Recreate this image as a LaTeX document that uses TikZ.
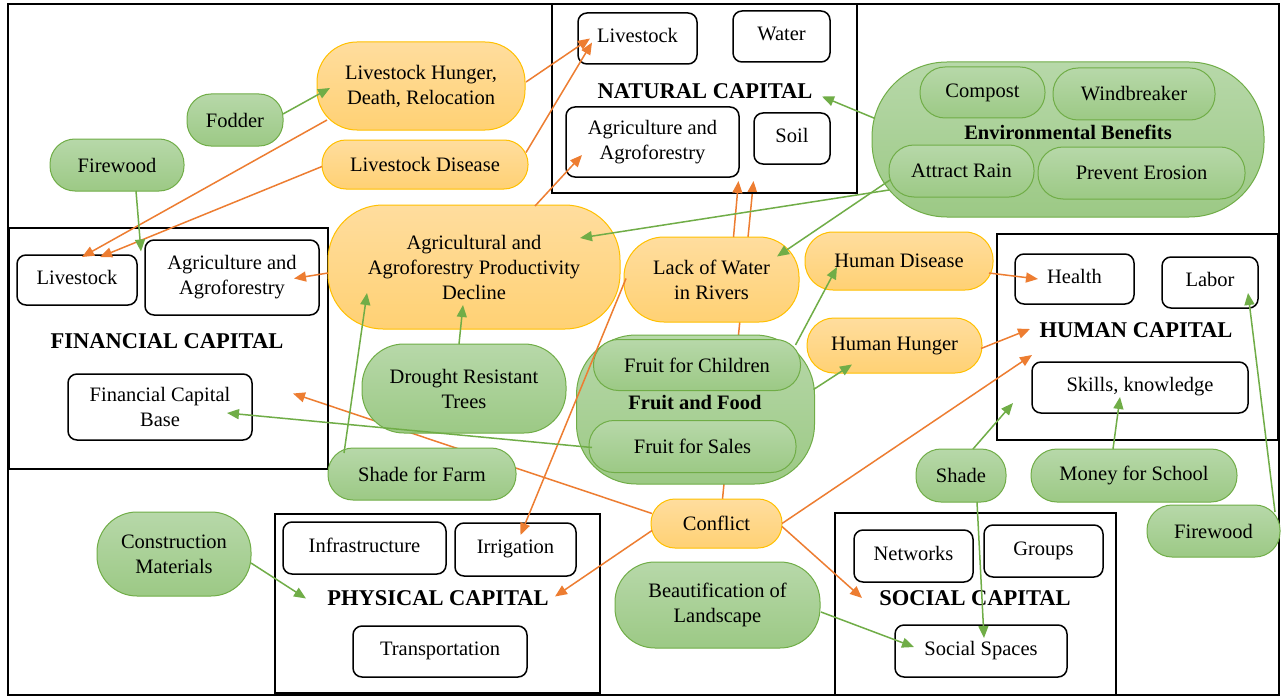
\documentclass[tikz,border=0pt]{standalone}
\usepackage{fontspec}
\setmainfont{Liberation Serif}
\usetikzlibrary{arrows.meta}

\pgfdeclarelayer{under}
\pgfsetlayers{under,main}

\definecolor{orline}{HTML}{ED7D31}
\definecolor{grline}{HTML}{70AD47}
\definecolor{orborder}{HTML}{FFC000}
\definecolor{ortop}{HTML}{FFDD9E}
\definecolor{orbot}{HTML}{FFD174}
\definecolor{grtop}{HTML}{B7D8A9}
\definecolor{grbot}{HTML}{9CC985}

\tikzset{
  txt/.style={font=\fontsize{20.5}{25}\selectfont, align=center, inner sep=0pt, outer sep=0pt},
  ln/.style={text height=15pt, text depth=6.5pt},
  multi/.style={text height={}, text depth={}},
  inlabel/.style={txt, font=\fontsize{20.5}{25}\selectfont\bfseries},
  wbox/.style={txt, ln, draw=black, line width=1.5pt, rounded corners=9, fill=white},
  capframe/.style={draw=black, line width=2pt, inner sep=0pt, outer sep=0pt},
  caplabel/.style={font=\fontsize{22.5}{27}\selectfont\bfseries, inner sep=0pt},
  obox/.style={txt, draw=orborder, line width=1pt, top color=ortop, bottom color=orbot},
  gbox/.style={txt, draw=grline, line width=1pt, top color=grtop, bottom color=grbot},
  oarr/.style={draw=orline, line width=1.5pt, -{Triangle[length=12pt,width=10pt]}},
  garr/.style={draw=grline, line width=1.5pt, -{Triangle[length=12pt,width=10pt]}},
}

\begin{document}
\begin{tikzpicture}[x=1pt, y=-1pt]
\useasboundingbox (0,0) rectangle (1281,698);
\draw[line width=2.5pt] (8,4) rectangle (1279,695);

% capital frames
\node[capframe, minimum width=305, minimum height=189] (natcap) at (704.5,98.5) {};
\node[capframe, minimum width=319, minimum height=241] (fincap) at (168.5,348.5) {};
\node[capframe, minimum width=281, minimum height=206] (humcap) at (1137.5,337) {};
\node[capframe, minimum width=325, minimum height=179] (phycap) at (437.5,603.5) {};
\node[capframe, minimum width=281, minimum height=182] (soccap) at (975.5,604) {};

% natural capital
\node[wbox, minimum width=119, minimum height=51] (natlive) at (637.5,38.5) {Livestock};
\node[wbox, minimum width=97, minimum height=51] (natwater) at (781.5,36.5) {Water};
\node[caplabel] (natlabel) at (705,91) {NATURAL CAPITAL};
\node[wbox, multi, minimum width=173, minimum height=70] (natagri) at (652.5,142) {Agriculture and\\Agroforestry};
\node[wbox, minimum width=76, minimum height=51] (natsoil) at (792,138.5) {Soil};

% financial capital
\node[wbox, minimum width=120, minimum height=50] (finlive) at (77,280) {Livestock};
\node[wbox, multi, minimum width=174, minimum height=75] (finagri) at (232,277.5) {Agriculture and\\Agroforestry};
\node[caplabel] (finlabel) at (167,341) {FINANCIAL CAPITAL};
\node[wbox, multi, minimum width=184, minimum height=66] (finbase) at (160,407) {Financial Capital\\Base};

% human capital
\node[wbox, minimum width=119, minimum height=50] (health) at (1074.5,279) {Health};
\node[wbox, minimum width=96, minimum height=51] (labor) at (1210,282.5) {Labor};
\node[caplabel] (humlabel) at (1136,330) {HUMAN CAPITAL};
\node[wbox, minimum width=216, minimum height=51] (skills) at (1140,387.5) {Skills, knowledge};

% physical capital
\node[wbox, minimum width=163, minimum height=52] (infra) at (364.5,548) {Infrastructure};
\node[wbox, minimum width=121, minimum height=53] (irrig) at (515.5,549.5) {Irrigation};
\node[caplabel] (phylabel) at (438,598) {PHYSICAL CAPITAL};
\node[wbox, minimum width=174, minimum height=51] (transp) at (440,651.5) {Transportation};

% social capital
\node[wbox, minimum width=119, minimum height=52] (networks) at (913.5,556) {Networks};
\node[wbox, minimum width=119, minimum height=52] (groups) at (1043.5,551) {Groups};
\node[caplabel] (soclabel) at (975,598) {SOCIAL CAPITAL};
\node[wbox, minimum width=172, minimum height=52] (socspaces) at (981,651) {Social Spaces};

% threats
\node[obox, minimum width=208, minimum height=88, rounded corners=40] (hunger) at (421,86) {Livestock Hunger,\\Death, Relocation};
\node[obox, minimum width=206, minimum height=49, rounded corners=24] (lsdisease) at (425,164.5) {Livestock Disease};
\node[obox, minimum width=292, minimum height=124, rounded corners=55] (decline) at (474,267) {Agricultural and\\Agroforestry Productivity\\Decline};
\node[obox, minimum width=175, minimum height=85, rounded corners=40] (lackwater) at (711.5,279.5) {Lack of Water\\in Rivers};
\node[obox, minimum width=188, minimum height=58, rounded corners=28] (humdisease) at (899,261) {Human Disease};
\node[obox, minimum width=175, minimum height=55, rounded corners=27] (humhunger) at (894.5,345.5) {Human Hunger};
\node[obox, minimum width=131, minimum height=49, rounded corners=24] (conflict) at (716.5,523.5) {Conflict};

% benefits
\node[gbox, minimum width=96, minimum height=52, rounded corners=24] (fodder) at (235,120) {Fodder};
\node[gbox, minimum width=134, minimum height=52, rounded corners=25] (firewoodL) at (117,165) {Firewood};
\node[gbox, minimum width=204, minimum height=89, rounded corners=42] (drought) at (464,388.5) {Drought Resistant\\Trees};
\node[gbox, minimum width=188, minimum height=52, rounded corners=25] (shadefarm) at (422,474) {Shade for Farm};
\node[gbox, minimum width=154, minimum height=84, rounded corners=40] (construct) at (174,554) {Construction\\Materials};

\node[gbox, minimum width=238, minimum height=149, rounded corners=60] (fruit) at (695.5,409.5) {};
\node[gbox, minimum width=207, minimum height=51, rounded corners=25] (fruitkids) at (697,365) {Fruit for Children};
\node[gbox, minimum width=207, minimum height=52, rounded corners=25] (fruitsales) at (692.5,446.5) {Fruit for Sales};
\node[inlabel] (fruitlabel) at (695,403) {Fruit and Food};

\node[gbox, minimum width=392, minimum height=155, rounded corners=75] (envben) at (1068,139.5) {};
\node[gbox, minimum width=125, minimum height=51, rounded corners=25] (compost) at (982.5,92.5) {Compost};
\node[gbox, minimum width=162, minimum height=52, rounded corners=25] (windbreak) at (1134,94) {Windbreaker};
\node[inlabel] (envlabel) at (1068,132) {Environmental Benefits};
\node[gbox, minimum width=145, minimum height=52, rounded corners=25] (rain) at (961.5,171) {Attract Rain};
\node[gbox, minimum width=207, minimum height=52, rounded corners=25] (erosion) at (1141.5,173) {Prevent Erosion};

\node[gbox, minimum width=205, minimum height=86, rounded corners=40] (beautify) at (717.5,605) {Beautification of\\Landscape};
\node[gbox, minimum width=90, minimum height=53, rounded corners=25] (shade) at (961,475.5) {Shade};
\node[gbox, minimum width=206, minimum height=53, rounded corners=26] (money) at (1134,475.5) {Money for School};
\node[gbox, minimum width=133, minimum height=52, rounded corners=25] (firewoodR) at (1213.5,531) {Firewood};

% links that run behind the shapes
\begin{pgfonlayer}{under}
  \fill[white] (0,0) rectangle (1281,698);
  \draw[oarr] ([shift={(6,0)}]conflict.north) -- ([shift={(49,-12)}]natcap.south);
  \draw[oarr] ([shift={(1,-10)}]conflict.west) -- ([shift={(-35,45)}]fincap.east);
\end{pgfonlayer}

% negative impacts
\draw[oarr] ([shift={(1,-4)}]hunger.east) -- ([shift={(12,0)}]natlive.west);
\draw[oarr] ([shift={(-2,-12)}]lsdisease.east) -- ([shift={(14,4)}]natlive.west);
\draw[oarr] ([shift={(10,34)}]hunger.west) -- ([shift={(5,2)}]finlive.north);
\draw[oarr] ([shift={(0,2)}]lsdisease.west) -- ([shift={(23,2)}]finlive.north);
\draw[oarr] ([shift={(61,1)}]decline.north) -- ([shift={(16,13)}]natagri.west);
\draw[oarr] ([shift={(0,6)}]decline.west) -- ([shift={(-25,1)}]finagri.east);
\draw[oarr] ([shift={(22,0)}]lackwater.north) -- ([shift={(34,-12)}]natcap.south);
\draw[oarr] ([shift={(2,-1)}]lackwater.west) -- ([shift={(5,12)}]irrig.north);
\draw[oarr] ([shift={(-4,12)}]humdisease.east) -- ([shift={(23,0)}]health.west);
\draw[oarr] ([shift={(-1,3)}]humhunger.east) -- ([shift={(33,-8)}]humcap.west);
\draw[oarr] (conflict.east) -- ([shift={(35,18)}]humcap.west);
\draw[oarr] ([shift={(0,3)}]conflict.east) -- ([shift={(27,-6)}]soccap.west);
\draw[oarr] ([shift={(1,7)}]conflict.west) -- ([shift={(-45,-7)}]phycap.east);

% positive contributions
\draw[garr] ([shift={(0,-6)}]fodder.east) -- ([shift={(13,2)}]hunger.west);
\draw[garr] ([shift={(19,0)}]firewoodL.south) -- ([shift={(-4,-26)}]finagri.west);
\draw[garr] ([shift={(-5,0)}]drought.north) -- ([shift={(-11,-24)}]decline.south);
\draw[garr] ([shift={(16,-21)}]shadefarm.west) -- ([shift={(39,26)}]decline.west);
\draw[garr] ([shift={(3,1)}]fruitsales.west) -- ([shift={(-25,6)}]finbase.east);
\draw[garr] ([shift={(0,9)}]construct.east) -- ([shift={(31,-5)}]phycap.west);
\draw[garr] ([shift={(3,-21)}]envben.west) -- ([shift={(-35,-2)}]natcap.east);
\draw[garr] ([shift={(0,19)}]rain.west) -- ([shift={(-40,-29)}]decline.east);
\draw[garr] ([shift={(1,9)}]rain.west) -- ([shift={(-22,-23)}]lackwater.east);
\draw[garr] ([shift={(-5,-20)}]fruitkids.east) -- ([shift={(32,6)}]humdisease.west);
\draw[garr] ([shift={(-1,-20)}]fruit.east) -- ([shift={(45,19)}]humhunger.west);
\draw[garr] ([shift={(12,0)}]shade.north) -- ([shift={(16,-37)}]humcap.south west);
\draw[garr] ([shift={(16,0)}]shade.south) -- ([shift={(3,13)}]socspaces.north);
\draw[garr] ([shift={(-21,0)}]money.north) -- ([shift={(-20,-16)}]skills.south);
\draw[garr] ([shift={(-5,-19)}]firewoodR.east) -- ([shift={(38,-15)}]labor.south);
\draw[garr] ([shift={(1,7)}]beautify.east) -- ([shift={(19,-4)}]socspaces.west);
\end{tikzpicture}
\end{document}
